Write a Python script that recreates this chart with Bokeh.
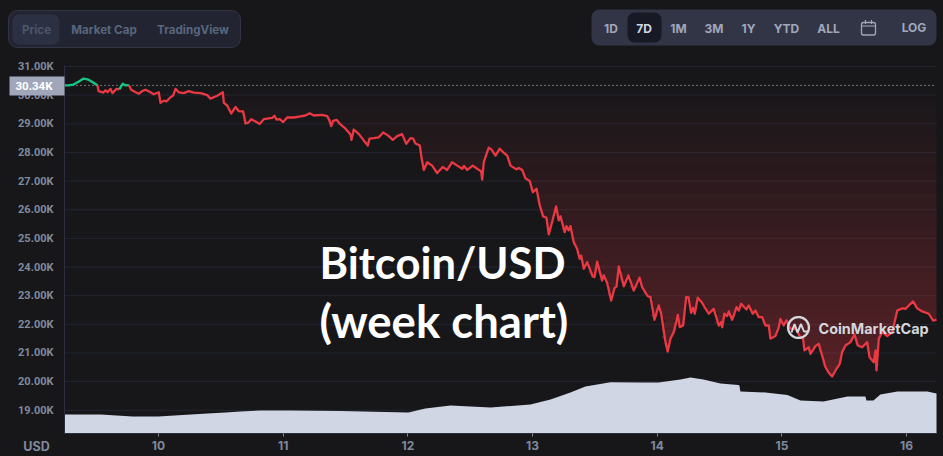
import numpy as np
from bokeh.plotting import figure
from bokeh.embed import file_html
from bokeh.resources import INLINE
from bokeh.models import (BoxAnnotation, Label, PolyAnnotation, Range1d, FixedTicker)

# ---- data -----------------------------------------------------------------
days = [9.246,9.278,9.318,9.358,9.399,9.439,9.479,9.511,9.519,9.559,9.575,9.591,9.615,9.631,9.663,9.685,9.714,9.735,9.762,9.781,
9.816,9.842,9.869,9.896,9.936,9.962,10.002,10.016,10.043,10.064,10.096,10.118,10.136,10.163,10.203,10.243,10.283,10.337,10.391,10.417,
10.471,10.516,10.524,10.551,10.583,10.618,10.644,10.679,10.698,10.724,10.743,10.778,10.812,10.844,10.912,10.930,10.946,10.973,11.000,11.032,
11.085,11.139,11.179,11.213,11.245,11.313,11.353,11.371,11.385,11.401,11.428,11.454,11.500,11.540,11.548,11.566,11.606,11.646,11.679,11.692,
11.727,11.767,11.802,11.847,11.879,11.914,11.954,11.987,12.021,12.043,12.061,12.096,12.109,12.128,12.155,12.195,12.235,12.280,12.315,12.355,
12.396,12.436,12.450,12.476,12.521,12.556,12.588,12.596,12.609,12.631,12.649,12.671,12.703,12.737,12.769,12.797,12.823,12.871,12.890,12.917,
12.943,12.978,13.002,13.032,13.058,13.085,13.112,13.130,13.157,13.189,13.210,13.224,13.258,13.272,13.290,13.304,13.330,13.357,13.378,13.390,
13.411,13.438,13.483,13.497,13.518,13.558,13.571,13.598,13.631,13.657,13.673,13.692,13.732,13.769,13.812,13.858,13.879,13.924,13.946,13.978,
14.012,14.032,14.066,14.084,14.106,14.133,14.165,14.181,14.208,14.232,14.251,14.272,14.288,14.301,14.325,14.360,14.413,14.453,14.494,14.513,
14.521,14.539,14.561,14.574,14.601,14.636,14.654,14.673,14.716,14.735,14.766,14.788,14.814,14.842,14.868,14.895,14.908,14.948,14.975,14.988,
15.015,15.036,15.068,15.109,15.149,15.170,15.181,15.215,15.229,15.269,15.295,15.323,15.349,15.376,15.403,15.430,15.464,15.483,15.510,15.550,
15.582,15.609,15.644,15.684,15.703,15.737,15.751,15.759,15.777,15.805,15.845,15.885,15.904,15.925,15.965,15.991,16.018,16.053,16.085,16.125,
16.178,16.213,16.240]
price_k = [30.34,30.34,30.37,30.47,30.58,30.54,30.43,30.34,30.14,30.09,30.17,30.10,30.22,30.07,30.22,30.20,30.40,30.34,30.35,30.19,
30.10,30.05,30.14,30.19,30.10,30.03,30.10,29.73,29.81,29.78,29.93,29.99,30.22,30.10,30.07,30.14,30.09,30.07,30.00,29.88,
29.98,30.10,29.73,29.64,29.36,29.59,29.44,29.43,29.01,29.05,29.16,29.08,28.99,29.16,29.21,29.28,29.15,29.16,29.06,29.22,
29.22,29.26,29.29,29.37,29.29,29.31,29.27,29.12,28.92,29.10,29.14,29.00,28.83,28.63,28.44,28.80,28.65,28.42,28.24,28.48,
28.50,28.53,28.70,28.57,28.44,28.57,28.64,28.30,28.50,28.48,28.31,28.24,27.83,27.39,27.66,27.54,27.28,27.49,27.39,27.66,
27.54,27.43,27.53,27.39,27.54,27.43,27.34,27.05,27.66,27.95,28.17,28.10,27.89,28.13,27.99,27.89,27.54,27.41,27.46,27.39,
27.10,27.00,26.61,26.73,26.15,25.77,25.72,25.14,25.57,26.12,25.63,25.77,25.22,25.43,25.28,25.43,24.87,24.64,24.29,24.40,
23.94,24.17,23.67,23.65,24.19,23.53,23.71,23.45,22.83,23.26,23.32,24.02,23.33,23.71,23.18,23.63,23.30,22.98,22.95,22.16,
22.66,22.37,21.38,21.05,21.50,21.73,22.33,21.90,21.96,22.95,22.94,22.40,22.58,22.37,22.93,22.75,22.37,22.54,21.96,22.08,
21.90,22.37,22.29,22.45,22.16,22.60,22.48,22.72,22.52,22.66,22.37,22.48,22.25,22.25,21.96,21.96,21.50,21.59,21.90,22.19,
21.96,22.14,21.85,21.85,21.55,21.50,21.09,21.20,20.97,21.24,21.32,20.91,20.51,20.31,20.18,20.39,20.62,21.03,21.26,21.38,
21.65,21.26,21.20,21.38,20.85,20.68,21.09,20.39,21.50,21.73,21.59,21.73,22.08,22.48,22.56,22.54,22.66,22.80,22.56,22.45,
22.37,22.13,22.16]
vol_days = [9.246,9.535,9.792,10.0,10.128,10.393,10.537,10.658,10.818,11.043,11.46,12.005,12.141,12.342,12.663,12.983,13.144,13.304,13.424,13.625,
13.866,14.01,14.186,14.267,14.371,14.507,14.651,14.659,14.667,14.868,15.044,15.149,15.333,15.526,15.67,15.678,15.734,15.79,15.927,16.167,16.24]
volume_b = [28.5,28.5,25.5,25.5,27,30,31.5,33,34.5,34.5,33.75,31.5,37.5,42,39,43.5,51,61.5,70.5,77,
76.5,76.5,81,84,81,75,72.75,72,63,61.5,57.75,49.5,48,55.5,55.5,49.5,49.5,58.5,63,63,60]
baseline_k = 30.34
y_ticks = [31, 30, 29, 28, 27, 26, 25, 24, 23, 22, 21, 20, 19]
y_labels = {t: f"{t}.00K" for t in y_ticks}
x_ticks = [10, 11, 12, 13, 14, 15, 16]
tabs = ["Price", "Market Cap", "TradingView"]
periods = ["1D", "7D", "1M", "3M", "1Y", "YTD", "ALL"]
x_start, x_end = 9.246, 16.24
y_floor, y_top = 18.19, 31.035

# ---- colours --------------------------------------------------------------
BG = "#17171a"; GRID = "#222531"; AXIS = "#2b2e40"; RED = "#ea3943"; GREEN = "#16c784"
TICK = "#808a9d"; VOL = "#d1d6e4"

W, H = 943, 456
p = figure(width=W, height=H, output_backend="svg", toolbar_location=None,
           x_range=Range1d(8.7327, 16.2961), y_range=Range1d(17.387, 33.304),
           min_border=0, background_fill_color=BG, border_fill_color=BG, outline_line_color=None)
p.extra_y_ranges = {"vol": Range1d(-34.5, 649.5)}

for ax, ticks in ((p.yaxis[0], y_ticks), (p.xaxis[0], x_ticks)):
    ax.ticker = FixedTicker(ticks=ticks)
    ax.axis_line_color = AXIS
    ax.major_label_text_color = TICK
    ax.major_label_text_font = "Inter"
    ax.major_label_text_font_size = "12px"
    ax.major_label_text_font_style = "bold"
    ax.minor_tick_line_color = None
p.yaxis[0].fixed_location = x_start
p.yaxis[0].bounds = (y_floor, y_top)
p.yaxis[0].major_label_overrides = y_labels
p.yaxis[0].major_label_text_font = "Roboto"
p.yaxis[0].major_label_text_font_size = "11px"
p.yaxis[0].major_label_text_font_style = "bold"
p.yaxis[0].major_tick_line_color = None
p.yaxis[0].major_label_standoff = 5
p.xaxis[0].fixed_location = y_floor
p.xaxis[0].bounds = (x_start, x_end)
p.xaxis[0].major_tick_line_color = TICK
p.xaxis[0].major_tick_in = 0
p.xaxis[0].major_tick_out = 3
p.xaxis[0].major_label_standoff = 5
p.xgrid.visible = False
p.ygrid.visible = False

# horizontal grid limited to the plotting area
p.segment(x0=[x_start] * len(y_ticks), x1=[x_end] * len(y_ticks), y0=y_ticks, y1=y_ticks,
          line_color=GRID, line_width=1)

d = np.array(days); v = np.array(price_k)

# vertical red gradient between the price line and the opening price
edges = np.linspace(baseline_k, 19.6, 44)
for i in range(len(edges) - 1):
    hi, lo = edges[i], edges[i + 1]
    alpha = 0.33 * (i + 0.5) / (len(edges) - 1)
    p.varea(x=d, y1=np.clip(v, lo, hi), y2=np.full_like(v, hi), fill_color=RED, fill_alpha=alpha)

# volume area
p.varea(x=vol_days, y1=np.zeros(len(volume_b)), y2=volume_b, fill_color=VOL, y_range_name="vol")

# opening-price dotted line
p.line([x_start, x_end], [baseline_k, baseline_k], line_color="#c8ccd4", line_dash="1 3", line_width=1)

# price line, split in above/below opening price
above = v >= baseline_k
start = 0
for i in range(1, len(v) + 1):
    if i == len(v) or above[i] != above[start]:
        p.line(d[max(start - 1, 0):i], v[max(start - 1, 0):i], line_color=GREEN if above[start] else RED,
               line_width=2.3, line_join="round")
        start = i

# ---- furniture ------------------------------------------------------------
def box(l, r, t, b, fill, line=None, radius=0, alpha=1.0, lw=1):
    bx = BoxAnnotation(left=l, right=r, top=t, bottom=b, left_units="canvas", right_units="canvas",
                       top_units="canvas", bottom_units="canvas", fill_color=fill, fill_alpha=alpha,
                       line_color=line, line_width=lw, line_alpha=1 if line else 0, border_radius=radius)
    p.add_layout(bx)

def text(x, y, s, color, size=12, font="Inter", style="bold", align="center", base="middle", alpha=1.0):
    p.add_layout(Label(x=x, y=y, x_units="canvas", y_units="canvas", text=s, text_color=color,
                       text_font=font, text_font_size=f"{size}px", text_font_style=style,
                       text_align=align, text_baseline=base, text_alpha=alpha))

def poly(xs, ys, color, lw=1.5, fill=None, alpha=1.0):
    p.add_layout(PolyAnnotation(xs=list(xs), ys=list(ys), xs_units="canvas", ys_units="canvas",
                                line_color=color, line_width=lw, line_alpha=alpha,
                                fill_color=fill or color, fill_alpha=alpha if fill else 0))

# opening price tag
box(9, 64, 76, 95, "#a1a7bb")
text(33.5, 85.5, "30.34K", "#ffffff", size=11.5, font="Roboto")
text(36, 446, "USD", TICK, size=12.5)

# left tab group
box(8, 240, 10, 47, "#222531", line="#323546", radius=9)
box(12, 59, 14, 44, "#2c3043", radius=7)
for s, cx, col in zip(tabs, (36, 103.5, 192.5), ("#4c566b", "#58667e", "#58667e")):
    text(cx, 29, s, col, size=11.6)

# right period group
box(591, 936, 9, 45, "#323546", radius=8)
box(627, 661, 12, 42, "#171924", radius=7)
for s, cx in zip(periods, (610.5, 643.5, 678, 713.5, 748, 786, 828)):
    text(cx, 28, s, "#cfd6e4" if s == "7D" else "#a1a7bb", size=12)
text(913.5, 27, "LOG", "#a1a7bb", size=12)
# calendar icon
box(861, 875, 22, 34.5, "#323546", line="#a1a7bb", radius=2, lw=1.3)
poly([861, 875], [25.5, 25.5], "#a1a7bb", lw=1.2)
poly([865, 865], [19.5, 23.5], "#a1a7bb", lw=1.2)
poly([871, 871], [19.5, 23.5], "#a1a7bb", lw=1.2)

# watermark
th = np.linspace(0, 2 * np.pi, 60)
poly(798 + 10.4 * np.cos(th), 327 + 10.4 * np.sin(th), "#d5d7dc", lw=2.4)
wx = [791.0, 794.0, 797.0, 800.5, 803.5, 807.5]
wy = [332.0, 323.5, 332.0, 323.5, 331.0, 331.0]
poly(wx + wx[::-1], wy + wy[::-1], "#d5d7dc", lw=2.0)
text(818, 327.5, "CoinMarketCap", "#d5d7dc", size=14.4, style="bold", align="left")

# overlaid title
text(319, 261, "Bitcoin/USD", "#ffffff", size=43.5, font="Lato", align="left")
text(319, 320, "(week chart)", "#ffffff", size=45.5, font="Lato", align="left")

TEMPLATE = """{% block postamble %}<style>html,body{margin:0;padding:0;background:#17171a;overflow:hidden}</style>{% endblock %}
"""
open("out.html", "w").write(file_html(p, INLINE, template=TEMPLATE))
